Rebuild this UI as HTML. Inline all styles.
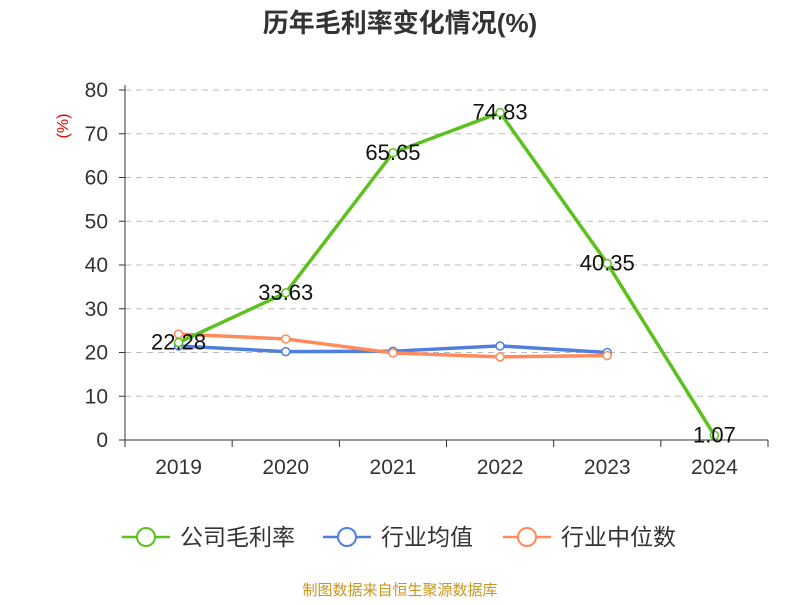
<!DOCTYPE html>
<html><head><meta charset="utf-8"><style>
body{margin:0;background:#fff;font-family:"Liberation Sans","Noto Sans CJK SC",sans-serif;}
</style></head><body>
<svg id="c" width="800" height="600" xmlns="http://www.w3.org/2000/svg"></svg>
<script>
const categories=["2019","2020","2021","2022","2023","2024"];
const company=[22.28,33.63,65.65,74.83,40.35,1.07];
const industryAvg=[21.5,20.2,20.3,21.5,20.0];
const industryMedian=[24.2,23.1,19.9,19.0,19.3];
const yTicks=[0,10,20,30,40,50,60,70,80];
const NS="http://www.w3.org/2000/svg";
const svg=document.getElementById('c');
const X0=125,X1=768,Y0=440,Y1=90,YMAX=80;
const bw=(X1-X0)/categories.length;
const xs=i=>X0+bw*(i+0.5);
const ys=v=>Y0-(v/YMAX)*(Y0-Y1);
function el(t,a,txt){const e=document.createElementNS(NS,t);for(const k in a)e.setAttribute(k,a[k]);if(txt!=null)e.textContent=txt;svg.appendChild(e);return e;}
let e;
e=el('text',{x:400,y:32,'text-anchor':'middle','font-size':26,'font-weight':'bold',fill:'#333'},'历年毛利率变化情况(%)');

e=el('text',{x:68,y:126,'text-anchor':'middle','font-size':16,fill:'#e00',transform:'rotate(-90 68 126)'},'(%)');

yTicks.forEach(t=>{
 if(t>0){const g=el('line',{x1:X0,x2:X1,y1:ys(t),y2:ys(t),stroke:'#bbb','stroke-dasharray':'6,5'});
 }
 const tk=el('line',{x1:X0-6,x2:X0,y1:ys(t),y2:ys(t),stroke:'#333'});
 
 const l=el('text',{x:X0-17,y:ys(t)+7,'text-anchor':'end','font-size':21,fill:'#333'},t);
 
});
e=el('line',{x1:X0,x2:X0,y1:Y1-5,y2:Y0,stroke:'#333'});
e=el('line',{x1:X0,x2:X1,y1:Y0,y2:Y0,stroke:'#333'});
for(let i=0;i<=categories.length;i++){const t=el('line',{x1:X0+bw*i,x2:X0+bw*i,y1:Y0,y2:Y0+7,stroke:'#333'});
 }
categories.forEach((c,i)=>{const l=el('text',{x:xs(i),y:474,'text-anchor':'middle','font-size':21,fill:'#333'},c);
 });
function series(data,color,name,labels){
 const p=el('polyline',{points:data.map((v,i)=>xs(i)+','+ys(v)).join(' '),fill:'none',stroke:color,'stroke-width':3.5});
 
 data.forEach((v,i)=>{const c=el('circle',{cx:xs(i),cy:ys(v),r:4,fill:'#fff',stroke:color,'stroke-width':1.5});
  });
 if(labels)data.forEach((v,i)=>{const t=el('text',{x:xs(i),y:ys(v)+7,'text-anchor':'middle','font-size':22,fill:'#111'},v.toFixed(2));
  });
}
series(industryAvg,'#4e7fe0','industry-average',false);
series(industryMedian,'#ff8a5b','industry-median',false);
series(company,'#5bc21d','company-gross-margin',true);
const leg=[['公司毛利率','#5bc21d',122],['行业均值','#4e7fe0',323],['行业中位数','#ff8a5b',503]];
leg.forEach(([n,c,x])=>{
 const g=el('line',{x1:x,x2:x+48,y1:537,y2:537,stroke:c,'stroke-width':2.5});
 const ci=el('circle',{cx:x+24,cy:537,r:9,fill:'#fff',stroke:c,'stroke-width':2});
 const t=el('text',{x:x+58,y:545,'font-size':23,fill:'#333'},n);
});
e=el('text',{x:400,y:595,'text-anchor':'middle','font-size':15,fill:'#c8961e'},'制图数据来自恒生聚源数据库');

</script>
</body></html>
